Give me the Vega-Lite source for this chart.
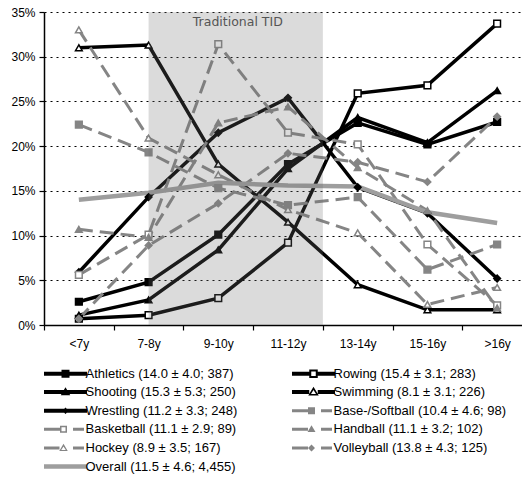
{
  "$schema": "https://vega.github.io/schema/vega-lite/v6.json",
  "width": 478,
  "height": 313,
  "autosize": "none",
  "padding": {"left": 44, "top": 12, "right": 0, "bottom": 152},
  "background": "white",
  "config": {"view": {"stroke": null}, "font": "Liberation Sans"},
  "datasets": {
    "shares": [
      {"sport": "Athletics (14.0 ± 4.0; 387)", "age": "<7y", "pct": 2.6},
      {"sport": "Athletics (14.0 ± 4.0; 387)", "age": "7-8y", "pct": 4.8},
      {"sport": "Athletics (14.0 ± 4.0; 387)", "age": "9-10y", "pct": 10.1},
      {"sport": "Athletics (14.0 ± 4.0; 387)", "age": "11-12y", "pct": 18.0},
      {"sport": "Athletics (14.0 ± 4.0; 387)", "age": "13-14y", "pct": 22.6},
      {"sport": "Athletics (14.0 ± 4.0; 387)", "age": "15-16y", "pct": 20.2},
      {"sport": "Athletics (14.0 ± 4.0; 387)", "age": ">16y", "pct": 22.7},
      {"sport": "Rowing (15.4 ± 3.1; 283)", "age": "<7y", "pct": 0.7},
      {"sport": "Rowing (15.4 ± 3.1; 283)", "age": "7-8y", "pct": 1.1},
      {"sport": "Rowing (15.4 ± 3.1; 283)", "age": "9-10y", "pct": 3.0},
      {"sport": "Rowing (15.4 ± 3.1; 283)", "age": "11-12y", "pct": 9.2},
      {"sport": "Rowing (15.4 ± 3.1; 283)", "age": "13-14y", "pct": 25.9},
      {"sport": "Rowing (15.4 ± 3.1; 283)", "age": "15-16y", "pct": 26.8},
      {"sport": "Rowing (15.4 ± 3.1; 283)", "age": ">16y", "pct": 33.7},
      {"sport": "Shooting (15.3 ± 5.3; 250)", "age": "<7y", "pct": 1.1},
      {"sport": "Shooting (15.3 ± 5.3; 250)", "age": "7-8y", "pct": 2.8},
      {"sport": "Shooting (15.3 ± 5.3; 250)", "age": "9-10y", "pct": 8.4},
      {"sport": "Shooting (15.3 ± 5.3; 250)", "age": "11-12y", "pct": 17.5},
      {"sport": "Shooting (15.3 ± 5.3; 250)", "age": "13-14y", "pct": 23.2},
      {"sport": "Shooting (15.3 ± 5.3; 250)", "age": "15-16y", "pct": 20.4},
      {"sport": "Shooting (15.3 ± 5.3; 250)", "age": ">16y", "pct": 26.2},
      {"sport": "Swimming (8.1 ± 3.1; 226)", "age": "<7y", "pct": 31.0},
      {"sport": "Swimming (8.1 ± 3.1; 226)", "age": "7-8y", "pct": 31.3},
      {"sport": "Swimming (8.1 ± 3.1; 226)", "age": "9-10y", "pct": 18.0},
      {"sport": "Swimming (8.1 ± 3.1; 226)", "age": "11-12y", "pct": 11.5},
      {"sport": "Swimming (8.1 ± 3.1; 226)", "age": "13-14y", "pct": 4.5},
      {"sport": "Swimming (8.1 ± 3.1; 226)", "age": "15-16y", "pct": 1.7},
      {"sport": "Swimming (8.1 ± 3.1; 226)", "age": ">16y", "pct": 1.7},
      {"sport": "Wrestling (11.2 ± 3.3; 248)", "age": "<7y", "pct": 5.9},
      {"sport": "Wrestling (11.2 ± 3.3; 248)", "age": "7-8y", "pct": 14.3},
      {"sport": "Wrestling (11.2 ± 3.3; 248)", "age": "9-10y", "pct": 21.5},
      {"sport": "Wrestling (11.2 ± 3.3; 248)", "age": "11-12y", "pct": 25.4},
      {"sport": "Wrestling (11.2 ± 3.3; 248)", "age": "13-14y", "pct": 15.4},
      {"sport": "Wrestling (11.2 ± 3.3; 248)", "age": "15-16y", "pct": 12.5},
      {"sport": "Wrestling (11.2 ± 3.3; 248)", "age": ">16y", "pct": 5.2},
      {"sport": "Base-/Softball (10.4 ± 4.6; 98)", "age": "<7y", "pct": 22.4},
      {"sport": "Base-/Softball (10.4 ± 4.6; 98)", "age": "7-8y", "pct": 19.3},
      {"sport": "Base-/Softball (10.4 ± 4.6; 98)", "age": "9-10y", "pct": 15.3},
      {"sport": "Base-/Softball (10.4 ± 4.6; 98)", "age": "11-12y", "pct": 13.4},
      {"sport": "Base-/Softball (10.4 ± 4.6; 98)", "age": "13-14y", "pct": 14.3},
      {"sport": "Base-/Softball (10.4 ± 4.6; 98)", "age": "15-16y", "pct": 6.2},
      {"sport": "Base-/Softball (10.4 ± 4.6; 98)", "age": ">16y", "pct": 9.0},
      {"sport": "Basketball (11.1 ± 2.9; 89)", "age": "<7y", "pct": 5.6},
      {"sport": "Basketball (11.1 ± 2.9; 89)", "age": "7-8y", "pct": 10.1},
      {"sport": "Basketball (11.1 ± 2.9; 89)", "age": "9-10y", "pct": 31.4},
      {"sport": "Basketball (11.1 ± 2.9; 89)", "age": "11-12y", "pct": 21.5},
      {"sport": "Basketball (11.1 ± 2.9; 89)", "age": "13-14y", "pct": 20.2},
      {"sport": "Basketball (11.1 ± 2.9; 89)", "age": "15-16y", "pct": 9.0},
      {"sport": "Basketball (11.1 ± 2.9; 89)", "age": ">16y", "pct": 2.2},
      {"sport": "Handball (11.1 ± 3.2; 102)", "age": "<7y", "pct": 10.7},
      {"sport": "Handball (11.1 ± 3.2; 102)", "age": "7-8y", "pct": 9.8},
      {"sport": "Handball (11.1 ± 3.2; 102)", "age": "9-10y", "pct": 22.6},
      {"sport": "Handball (11.1 ± 3.2; 102)", "age": "11-12y", "pct": 24.4},
      {"sport": "Handball (11.1 ± 3.2; 102)", "age": "13-14y", "pct": 17.6},
      {"sport": "Handball (11.1 ± 3.2; 102)", "age": "15-16y", "pct": 12.8},
      {"sport": "Handball (11.1 ± 3.2; 102)", "age": ">16y", "pct": 1.9},
      {"sport": "Hockey (8.9 ± 3.5; 167)", "age": "<7y", "pct": 33.0},
      {"sport": "Hockey (8.9 ± 3.5; 167)", "age": "7-8y", "pct": 20.9},
      {"sport": "Hockey (8.9 ± 3.5; 167)", "age": "9-10y", "pct": 16.8},
      {"sport": "Hockey (8.9 ± 3.5; 167)", "age": "11-12y", "pct": 12.9},
      {"sport": "Hockey (8.9 ± 3.5; 167)", "age": "13-14y", "pct": 10.3},
      {"sport": "Hockey (8.9 ± 3.5; 167)", "age": "15-16y", "pct": 2.3},
      {"sport": "Hockey (8.9 ± 3.5; 167)", "age": ">16y", "pct": 4.2},
      {"sport": "Volleyball (13.8 ± 4.3; 125)", "age": "<7y", "pct": 0.7},
      {"sport": "Volleyball (13.8 ± 4.3; 125)", "age": "7-8y", "pct": 8.9},
      {"sport": "Volleyball (13.8 ± 4.3; 125)", "age": "9-10y", "pct": 13.6},
      {"sport": "Volleyball (13.8 ± 4.3; 125)", "age": "11-12y", "pct": 19.2},
      {"sport": "Volleyball (13.8 ± 4.3; 125)", "age": "13-14y", "pct": 18.2},
      {"sport": "Volleyball (13.8 ± 4.3; 125)", "age": "15-16y", "pct": 16.0},
      {"sport": "Volleyball (13.8 ± 4.3; 125)", "age": ">16y", "pct": 23.3},
      {"sport": "Overall (11.5 ± 4.6; 4,455)", "age": "<7y", "pct": 14.0},
      {"sport": "Overall (11.5 ± 4.6; 4,455)", "age": "7-8y", "pct": 14.8},
      {"sport": "Overall (11.5 ± 4.6; 4,455)", "age": "9-10y", "pct": 15.9},
      {"sport": "Overall (11.5 ± 4.6; 4,455)", "age": "11-12y", "pct": 15.6},
      {"sport": "Overall (11.5 ± 4.6; 4,455)", "age": "13-14y", "pct": 15.5},
      {"sport": "Overall (11.5 ± 4.6; 4,455)", "age": "15-16y", "pct": 12.6},
      {"sport": "Overall (11.5 ± 4.6; 4,455)", "age": ">16y", "pct": 11.4}
    ],
    "band": [{"start": 1.5, "end": 4, "pct": 35, "pct2": 0}],
    "note": [{"pos": 2.78, "pct": 33.9, "text": "Traditional TID"}]
  },
  "resolve": {"scale": {"x": "independent"}, "axis": {"x": "independent"}},
  "layer": [
    {
      "layer": [
        {
          "data": {"name": "shares"},
          "transform": [{"filter": {"field": "sport", "oneOf": ["Athletics (14.0 ± 4.0; 387)", "Shooting (15.3 ± 5.3; 250)", "Wrestling (11.2 ± 3.3; 248)", "Rowing (15.4 ± 3.1; 283)", "Swimming (8.1 ± 3.1; 226)"]}}],
          "mark": {"type": "line", "strokeWidth": 3.5},
          "encoding": {
            "x": {
              "field": "age", "type": "ordinal",
              "scale": {"type": "band", "domain": ["<7y", "7-8y", "9-10y", "11-12y", "13-14y", "15-16y", ">16y"], "paddingInner": 0, "paddingOuter": 0, "range": [0, 488]},
              "axis": {"title": null, "tickBand": "extent", "tickSize": 5, "tickColor": "black", "tickWidth": 1.2, "domainColor": "black", "domainWidth": 1.5, "labelFontSize": 12, "labelColor": "black", "labelPadding": 8, "labelAngle": 0, "grid": false}
            },
            "y": {
              "field": "pct", "type": "quantitative",
              "scale": {"domain": [0, 35], "nice": false},
              "axis": {"title": null, "values": [0, 5, 10, 15, 20, 25, 30, 35], "labelExpr": "datum.value + '%'", "grid": true, "gridColor": "black", "gridDash": [2, 4], "gridWidth": 1.2, "domainColor": "black", "domainWidth": 1.5, "tickColor": "black", "tickSize": 5, "tickWidth": 1.2, "labelFontSize": 12, "labelColor": "black", "labelPadding": 4}
            },
            "color": {
              "field": "sport", "type": "nominal",
              "scale": {
                "domain": ["Athletics (14.0 ± 4.0; 387)", "Shooting (15.3 ± 5.3; 250)", "Wrestling (11.2 ± 3.3; 248)", "Basketball (11.1 ± 2.9; 89)", "Hockey (8.9 ± 3.5; 167)", "Overall (11.5 ± 4.6; 4,455)", "Rowing (15.4 ± 3.1; 283)", "Swimming (8.1 ± 3.1; 226)", "Base-/Softball (10.4 ± 4.6; 98)", "Handball (11.1 ± 3.2; 102)", "Volleyball (13.8 ± 4.3; 125)"],
                "range": ["#000000", "#000000", "#000000", "#858585", "#858585", "#9e9e9e", "#000000", "#000000", "#858585", "#858585", "#858585"]
              },
              "legend": {
                "orient": "none", "legendX": 15, "legendY": 355, "columns": 2, "title": null,
                "symbolSize": 100, "symbolStrokeWidth": 0, "symbolStrokeColor": "transparent",
                "labelFontSize": 13, "labelFont": "Liberation Sans", "labelColor": "black",
                "labelOffset": 13.5, "rowPadding": 4.6, "columnPadding": 54, "labelLimit": 400,
                "encode": {
                  "symbols": {
                    "update": {
                      "shape": {"signal": "['M-4.3,-0.4H4.3V0.4H-4.3Z M-0.8,-0.8H0.8V0.8H-0.8Z', 'M-4.3,-0.4H4.3V0.4H-4.3Z M0,-0.95L0.95,0.65H-0.95Z', 'M-4.3,-0.4H4.3V0.4H-4.3Z M0,-0.65L0.65,0L0,0.65L-0.65,0Z', 'M-4.3,-0.3H-1.1V0.3H-4.3Z M1.5,-0.3H3.7V0.3H1.5Z M-1.1,-0.7H0.3V0.7H-1.1Z M-0.8,-0.4V0.4H0V-0.4Z', 'M-4.3,-0.3H-1.2V0.3H-4.3Z M1.5,-0.3H3.7V0.3H1.5Z M-0.4,-0.85L0.45,0.6H-1.25Z M-0.4,-0.3L-0.85,0.4H0.05Z', 'M-4.3,-0.45H4.3V0.45H-4.3Z', 'M-4.3,-0.4H-0.8V0.4H-4.3Z M0.8,-0.4H4.3V0.4H0.8Z M-0.85,-0.85H0.85V0.85H-0.85Z M-0.45,-0.45V0.45H0.45V-0.45Z', 'M-4.3,-0.4H-0.85V0.4H-4.3Z M0.85,-0.4H4.3V0.4H0.85Z M0,-1.05L1.05,0.7H-1.05Z M0,-0.4L-0.5,0.4H0.5Z', 'M-4.3,-0.3H-1.1V0.3H-4.3Z M1.5,-0.3H3.7V0.3H1.5Z M-1.1,-0.7H0.3V0.7H-1.1Z', 'M-4.3,-0.3H-1.1V0.3H-4.3Z M1.5,-0.3H3.7V0.3H1.5Z M-0.4,-0.8L0.4,0.55H-1.2Z', 'M-4.3,-0.3H-1.1V0.3H-4.3Z M1.5,-0.3H3.7V0.3H1.5Z M-0.4,-0.7L0.3,0L-0.4,0.7L-1.1,0Z'][datum.index]"},
                      "fill": {"signal": "['#000000','#000000','#000000','#858585','#858585','#9e9e9e','#000000','#000000','#858585','#858585','#858585'][datum.index]"},
                      "fillOpacity": {"value": 1},
                      "stroke": {"value": "transparent"},
                      "strokeWidth": {"value": 0},
                      "opacity": {"value": 1}
                    }
                  }
                }
              }
            }
          }
        },
        {
          "data": {"name": "shares"},
          "transform": [{"filter": {"field": "sport", "oneOf": ["Base-/Softball (10.4 ± 4.6; 98)", "Basketball (11.1 ± 2.9; 89)", "Handball (11.1 ± 3.2; 102)", "Hockey (8.9 ± 3.5; 167)", "Volleyball (13.8 ± 4.3; 125)"]}}],
          "mark": {"type": "line", "strokeWidth": 3, "strokeDash": [14, 7]},
          "encoding": {
            "x": {"field": "age", "type": "ordinal"},
            "y": {"field": "pct", "type": "quantitative"},
            "color": {"field": "sport", "type": "nominal"}
          }
        },
        {
          "data": {"name": "shares"},
          "transform": [{"filter": "datum.sport == 'Overall (11.5 ± 4.6; 4,455)'"}],
          "mark": {"type": "line", "strokeWidth": 4.5},
          "encoding": {
            "x": {"field": "age", "type": "ordinal"},
            "y": {"field": "pct", "type": "quantitative"},
            "color": {"field": "sport", "type": "nominal"}
          }
        },
        {
          "data": {"name": "shares"},
          "transform": [{"filter": "datum.sport != 'Overall (11.5 ± 4.6; 4,455)'"}],
          "mark": {"type": "point", "strokeWidth": 1.5, "opacity": 1},
          "encoding": {
            "x": {"field": "age", "type": "ordinal"},
            "y": {"field": "pct", "type": "quantitative"},
            "shape": {
              "field": "sport", "type": "nominal",
              "scale": {
                "domain": ["Athletics (14.0 ± 4.0; 387)", "Rowing (15.4 ± 3.1; 283)", "Shooting (15.3 ± 5.3; 250)", "Swimming (8.1 ± 3.1; 226)", "Wrestling (11.2 ± 3.3; 248)", "Base-/Softball (10.4 ± 4.6; 98)", "Basketball (11.1 ± 2.9; 89)", "Handball (11.1 ± 3.2; 102)", "Hockey (8.9 ± 3.5; 167)", "Volleyball (13.8 ± 4.3; 125)"],
                "range": ["square", "square", "triangle-up", "triangle-up", "diamond", "square", "square", "triangle-up", "triangle-up", "diamond"]
              },
              "legend": null
            },
            "fill": {
              "field": "sport", "type": "nominal",
              "scale": {
                "domain": ["Athletics (14.0 ± 4.0; 387)", "Rowing (15.4 ± 3.1; 283)", "Shooting (15.3 ± 5.3; 250)", "Swimming (8.1 ± 3.1; 226)", "Wrestling (11.2 ± 3.3; 248)", "Base-/Softball (10.4 ± 4.6; 98)", "Basketball (11.1 ± 2.9; 89)", "Handball (11.1 ± 3.2; 102)", "Hockey (8.9 ± 3.5; 167)", "Volleyball (13.8 ± 4.3; 125)"],
                "range": ["#000000", "#ffffff", "#000000", "#ffffff", "#000000", "#858585", "#ffffff", "#858585", "#ffffff", "#858585"]
              },
              "legend": null
            },
            "stroke": {
              "field": "sport", "type": "nominal",
              "scale": {
                "domain": ["Athletics (14.0 ± 4.0; 387)", "Rowing (15.4 ± 3.1; 283)", "Shooting (15.3 ± 5.3; 250)", "Swimming (8.1 ± 3.1; 226)", "Wrestling (11.2 ± 3.3; 248)", "Base-/Softball (10.4 ± 4.6; 98)", "Basketball (11.1 ± 2.9; 89)", "Handball (11.1 ± 3.2; 102)", "Hockey (8.9 ± 3.5; 167)", "Volleyball (13.8 ± 4.3; 125)"],
                "range": ["#000000", "#000000", "#000000", "#000000", "#000000", "#858585", "#858585", "#858585", "#858585", "#858585"]
              },
              "legend": null
            },
            "size": {
              "field": "sport", "type": "nominal",
              "scale": {
                "domain": ["Athletics (14.0 ± 4.0; 387)", "Rowing (15.4 ± 3.1; 283)", "Shooting (15.3 ± 5.3; 250)", "Swimming (8.1 ± 3.1; 226)", "Wrestling (11.2 ± 3.3; 248)", "Base-/Softball (10.4 ± 4.6; 98)", "Basketball (11.1 ± 2.9; 89)", "Handball (11.1 ± 3.2; 102)", "Hockey (8.9 ± 3.5; 167)", "Volleyball (13.8 ± 4.3; 125)"],
                "range": [45, 45, 55, 55, 28, 50, 45, 55, 55, 45]
              },
              "legend": null
            }
          }
        }
      ]
    },
    {
      "layer": [
        {
          "data": {"name": "band"},
          "mark": {"type": "rect", "color": "#707070", "opacity": 0.25},
          "encoding": {
            "x": {"field": "start", "type": "quantitative", "scale": {"domain": [0, 7], "range": [0, 488], "nice": false, "zero": false}, "axis": null},
            "x2": {"field": "end"},
            "y": {"field": "pct", "type": "quantitative"},
            "y2": {"field": "pct2"}
          }
        },
        {
          "data": {"name": "note"},
          "mark": {"type": "text", "fontSize": 12.5, "color": "#555555", "font": "DejaVu Sans", "align": "center", "baseline": "middle"},
          "encoding": {
            "x": {"field": "pos", "type": "quantitative", "axis": null},
            "y": {"field": "pct", "type": "quantitative"},
            "text": {"field": "text"}
          }
        }
      ]
    }
  ]
}
